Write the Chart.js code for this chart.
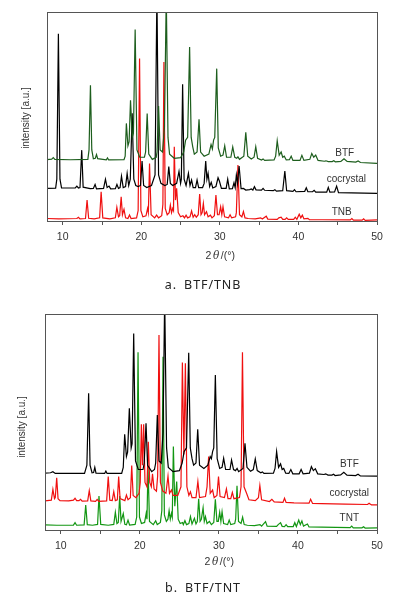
<!DOCTYPE html>
<html><head><meta charset="utf-8">
<script src="https://cdn.jsdelivr.net/npm/chart.js@4.4.1/dist/chart.umd.min.js"></script>
<style>
html,body{margin:0;padding:0;background:#fff;}
#wrap{position:relative;width:395px;height:599px;overflow:hidden;background:#fff;}
.box{position:absolute;left:0;width:395px;}
</style></head><body>
<div id="wrap">
<div class="box" style="top:0;height:300px"><canvas id="c1" width="395" height="300"></canvas></div>
<div class="box" style="top:300px;height:299px"><canvas id="c2" width="395" height="299"></canvas></div>
</div>
<script>
// x range (2θ, degrees)
const xTicks = [10, 20, 30, 40, 50];

// ---- Panel a: BTF / TNB (y = offset intensity, a.u.) ----
const btfA = [[8,29.4],[8.6,29.6],[8.8,30.3],[9.0,29.5],[11,29.3],[13.2,29.5],[13.35,34],[13.53,65],[13.7,34],[13.9,29.8],[14.15,30],[14.3,31.8],[14.45,29.8],[15.55,29.3],[15.7,30.2],[15.85,29.2],[17.8,29.3],[17.95,31],[18.1,46.7],[18.3,36],[18.45,38],[18.63,57.8],[18.85,40],[19.0,42],[19.22,91.6],[19.45,34],[19.8,30.5],[20.4,30.5],[20.55,33],[20.75,51.4],[20.95,32],[21.4,29.5],[21.9,30.5],[22.0,33],[22.2,55],[22.4,34],[22.7,33],[22.95,45],[23.18,108],[23.4,40],[23.6,32],[24.2,30],[25.0,30.3],[25.4,33],[25.64,38.7],[25.9,40],[26.15,83.3],[26.35,40],[26.55,35.5],[26.75,32],[27.1,33],[27.35,48.7],[27.55,33],[28.0,31],[28.6,32],[28.88,36.6],[29.05,34.5],[29.2,38.7],[29.35,40],[29.6,72.9],[29.8,35],[30.1,31],[30.4,31.5],[30.62,36],[30.85,30.5],[31.4,30.5],[31.64,35.4],[31.9,30.5],[32.15,30],[32.3,30.7],[32.5,29.5],[33.05,31],[33.3,42.4],[33.55,31],[34.0,29.7],[34.35,30.5],[34.57,35.5],[34.8,30],[35.3,29.2],[35.5,29.7],[35.7,29],[36.9,29.2],[37.1,31],[37.3,38.4],[37.55,31.5],[37.8,33],[38.0,30.5],[38.2,31],[38.45,29.2],[38.85,29.3],[39.08,31],[39.3,29],[40.2,29],[40.44,31.4],[40.7,29],[41.45,29.5],[41.7,32.3],[41.95,30.5],[42.2,31.5],[42.5,29],[43.3,28.6],[43.5,28.8],[43.8,28.4],[44.3,28.4],[44.5,28.8],[44.7,28.3],[45.4,28.5],[45.8,29.8],[46.2,28.5],[47.3,28.2],[47.6,28.7],[47.9,28],[50,27.6]];

const cocA = [[8,15.6],[9.1,15.7],[9.25,20],[9.45,89.6],[9.65,20],[9.85,15.8],[11.6,15.8],[11.8,16.7],[12.0,15.8],[12.2,16],[12.42,33.9],[12.6,16.2],[13.5,15.5],[13.9,15.6],[14.12,17.5],[14.3,15.4],[15.2,15.6],[15.44,20],[15.65,16],[15.9,16.7],[16.1,15.4],[16.7,15.5],[16.9,17.5],[17.1,15.6],[17.3,16],[17.48,21.5],[17.7,16],[18.0,16.5],[18.2,22.8],[18.4,17],[18.6,20],[18.84,51.5],[19.05,20],[19.3,17],[19.6,16.5],[19.9,17],[20.1,28.7],[20.3,17],[20.7,16],[21.0,16.5],[21.3,17],[21.75,22],[21.99,110],[22.2,22],[22.5,18],[23.0,17],[23.3,17.5],[23.5,26],[23.7,18],[24.0,17],[24.5,18],[24.8,23.7],[25.0,18],[25.1,20],[25.26,65.4],[25.45,20],[25.7,17],[26.0,22.8],[26.2,17],[26.4,19.6],[26.6,16],[26.9,16],[27.1,19.6],[27.3,16],[27.8,16],[28.0,18],[28.2,28.7],[28.35,20],[28.5,22.8],[28.7,16.5],[28.9,18.5],[29.1,15.8],[29.5,16.5],[29.77,20.7],[29.95,19],[30.2,15.6],[30.8,15.6],[31.0,20],[31.2,15.4],[31.6,15.5],[31.8,18.3],[31.95,16],[32.1,22],[32.25,18],[32.45,26.3],[32.7,15.5],[33.0,15.6],[33.3,14.8],[33.8,15],[34.0,15.3],[34.2,14.8],[34.4,16.4],[34.6,14.9],[35.3,14.8],[35.5,15.6],[35.7,14.7],[36.8,14.5],[37.0,15],[37.2,14.3],[38.0,14.5],[38.27,23.9],[38.5,14.5],[39.3,14.2],[39.5,15],[39.7,14],[40.8,14.2],[41.0,15.9],[41.2,14],[41.8,14],[42.0,14.7],[42.2,13.8],[43.6,13.8],[43.8,16.1],[44.0,13.8],[44.6,13.9],[44.86,16.7],[45.1,13.6],[50,13.2]];

const tnbA = [[8,1.2],[9.5,1.0],[11.8,1.2],[12.0,1.8],[12.2,1.0],[12.9,1.2],[13.1,10],[13.3,1.3],[14.0,1.0],[14.7,1.5],[14.89,14],[15.1,1.5],[16.0,1.0],[16.7,1.5],[16.89,6.5],[17.1,2],[17.25,2.5],[17.44,11.6],[17.6,3],[17.8,5.6],[18.0,1.5],[18.3,1.2],[18.5,2.9],[18.7,1.2],[19.4,1.5],[19.6,5],[19.78,77.7],[19.95,5],[20.2,2],[20.6,2.5],[20.8,6],[20.9,4],[21.05,27.5],[21.25,3],[21.7,1.5],[21.95,2.8],[22.2,1.5],[22.6,2.5],[22.75,8],[22.88,76.1],[23.05,6],[23.3,3],[23.55,4],[23.7,7.6],[23.85,4],[24.0,6],[24.1,5],[24.2,35.5],[24.35,10],[24.5,15.6],[24.7,4],[25.0,2],[25.3,2.5],[25.5,1.5],[25.7,2.8],[25.9,1.5],[26.2,2],[26.4,4.8],[26.6,1.8],[26.8,3],[27.0,1.8],[27.25,3],[27.43,12.9],[27.6,3],[27.75,4],[27.9,8.4],[28.05,3],[28.3,4.5],[28.5,2],[28.8,2.8],[29.0,1.5],[29.3,2.5],[29.5,12.4],[29.7,3],[29.9,3],[30.1,6.8],[30.25,3],[30.4,6.8],[30.6,2],[31.1,1.5],[31.3,3],[31.5,1.5],[32.0,2],[32.1,4],[32.3,26.8],[32.5,3],[32.8,2],[33.0,4.5],[33.2,1.5],[33.6,1.2],[34.5,1.0],[35.2,1.5],[35.4,1],[35.9,2.3],[36.1,0.9],[37.3,0.8],[37.5,1.5],[37.8,1.8],[38.0,0.8],[38.3,0.8],[38.5,1.5],[38.7,0.8],[39.4,0.8],[39.6,1.8],[39.8,0.8],[40.1,3.2],[40.3,1.5],[40.5,2.8],[40.7,1.0],[41.2,1.3],[41.4,0.6],[43,0.6],[46.6,0.5],[46.8,1.2],[47.0,0.4],[48.1,0.4],[48.3,1.0],[48.5,0.3],[50,0.5]];

// ---- Panel b: BTF / TNT ----
const btfB = [[8,26.3],[8.7,26.5],[9.0,27],[9.3,26.2],[13.0,26.2],[13.3,30],[13.52,63.3],[13.7,30],[13.95,26.5],[14.15,26.6],[14.3,29],[14.45,26.3],[15.55,26.2],[15.7,27.3],[15.85,26.2],[17.7,26.2],[17.9,29],[18.08,44.3],[18.3,34],[18.45,36],[18.67,56.3],[18.9,38],[19.02,40],[19.22,91],[19.45,32],[19.8,28],[20.4,28],[20.55,31],[20.78,49.4],[20.98,30],[21.5,27],[21.85,28],[22.0,31],[22.21,53.2],[22.42,32],[22.7,31],[22.93,45],[23.14,108],[23.38,38],[23.6,29],[24.2,27],[25.0,27.5],[25.35,31],[25.6,36.3],[25.9,38],[26.18,82.1],[26.38,38],[26.6,33],[26.8,30],[27.1,31],[27.32,46.6],[27.55,30],[28.1,28.5],[28.6,30],[28.9,34],[29.05,33],[29.2,36.3],[29.35,38],[29.55,71.8],[29.78,33],[30.1,28.5],[30.4,29],[30.6,33.2],[30.85,28],[31.4,28],[31.6,32.4],[31.85,28],[32.1,27.5],[32.3,28.5],[32.5,27],[33.05,28.5],[33.3,40.1],[33.55,29],[34.0,27.2],[34.35,28],[34.6,32.9],[34.85,27.5],[35.3,26.5],[35.5,26.9],[35.7,26.2],[36.9,26.3],[37.1,28.5],[37.3,36.3],[37.55,29],[37.8,30.6],[38.0,28],[38.2,28.5],[38.45,26.3],[38.85,26.2],[39.1,28],[39.35,26],[40.15,26],[40.4,28],[40.65,26],[41.45,26.3],[41.7,29.3],[41.95,27.5],[42.2,28.4],[42.5,26],[43.3,25.7],[43.5,26],[43.8,25.4],[44.3,25.4],[44.5,25.8],[44.7,25.2],[45.4,25.5],[45.8,26.7],[46.2,25.4],[47.3,25.2],[47.6,25.8],[47.9,25],[50,24.9]];

const cocB = [[8,13.5],[8.8,13.8],[9.0,18.8],[9.2,14.5],[9.3,15],[9.48,24.2],[9.65,14.5],[9.9,13.6],[11.0,13.5],[11.6,13.8],[11.8,14.7],[12.0,13.6],[12.3,13.6],[12.5,14.2],[12.7,13.4],[13.4,13.5],[13.6,18.2],[13.8,13.5],[14.4,13.3],[14.6,14.2],[14.8,13.3],[15.8,13.5],[16.0,24.7],[16.2,13.8],[16.5,13.6],[16.7,17.7],[16.9,13.6],[17.15,14],[17.32,24.7],[17.5,14.5],[18.1,13.6],[18.3,16.2],[18.5,14],[18.8,15],[18.97,29.8],[19.15,16],[19.5,15],[19.9,17],[20.05,22],[20.19,48.9],[20.33,30],[20.48,48.9],[20.65,22],[20.9,20],[21.07,40.9],[21.25,22],[21.45,20],[21.6,26],[21.8,19],[22.1,18],[22.25,25],[22.42,90.3],[22.6,22],[22.9,18],[23.3,17],[23.56,25],[23.75,17],[24.0,18.5],[24.2,16],[24.8,16],[25.2,20],[25.38,77.5],[25.57,35],[25.76,77.2],[25.95,20],[26.2,16],[26.4,17.7],[26.6,15],[27.1,15],[27.34,22.5],[27.55,15],[28.3,15.5],[28.5,20],[28.7,34],[28.9,17],[29.2,18.5],[29.4,15],[29.75,16],[29.95,24.7],[30.15,15.5],[30.7,15],[30.95,19],[31.15,14.5],[31.5,14.5],[31.7,17.4],[31.9,14.5],[32.6,15],[32.8,20],[32.98,82.3],[33.18,20],[33.5,17],[33.8,14],[34.6,13.6],[35.0,15],[35.18,20.6],[35.4,14],[36.4,13.2],[36.7,14.2],[37.0,13],[38.1,12.8],[38.3,14.7],[38.5,12.8],[39.5,12.6],[41.4,12.4],[41.6,14.2],[41.85,12.3],[43,12.2],[46,12],[48.8,11.8],[49.0,12.4],[49.3,11.6],[50,11.6]];

const tntB = [[8,2.4],[9.5,2.2],[11.6,2.3],[11.8,3.4],[12.0,2.2],[12.95,2.4],[13.15,11.6],[13.35,2.5],[14.0,2.2],[14.65,2.6],[14.83,15.7],[15.05,2.6],[16.0,2.2],[16.7,2.6],[16.9,8.2],[17.1,3],[17.27,3.5],[17.45,15.7],[17.62,4],[17.9,7.6],[18.1,2.6],[18.3,2.4],[18.5,4.6],[18.7,2.3],[19.4,2.6],[19.6,6],[19.77,82.3],[19.95,6],[20.2,3],[20.6,3.5],[20.8,7.7],[20.9,5],[21.03,29.3],[21.22,4],[21.7,2.5],[22.0,4.3],[22.2,2.5],[22.6,3.5],[22.78,9],[22.93,80.2],[23.1,7],[23.35,4],[23.55,5],[23.7,9],[23.85,5],[24.0,7.7],[24.1,6],[24.24,38.6],[24.42,11],[24.66,22.4],[24.85,5],[25.1,3],[25.4,3.5],[25.5,2.5],[25.7,4.3],[25.9,2.5],[26.2,3],[26.4,6.2],[26.6,2.8],[26.9,5.4],[27.1,2.8],[27.27,4],[27.44,14.5],[27.62,4],[27.78,5],[28.0,10.3],[28.15,4],[28.3,6.2],[28.5,3],[28.8,4],[29.05,2.5],[29.35,3.5],[29.55,14.2],[29.75,4],[29.92,4],[30.1,8.2],[30.25,4],[30.4,8.5],[30.6,3],[31.1,2.5],[31.3,4.6],[31.5,2.5],[32.0,3],[32.12,5],[32.29,20.5],[32.48,4],[32.8,3],[33.0,5.9],[33.2,2.5],[33.6,2.2],[34.5,2],[35.2,2.5],[35.4,1.8],[35.9,3.9],[36.1,1.8],[37.3,1.7],[37.5,2.5],[37.8,3.4],[38.0,1.7],[38.3,1.6],[38.5,2.5],[38.7,1.6],[39.4,1.6],[39.6,3.4],[39.8,1.6],[40.1,4.6],[40.3,2.5],[40.5,4.2],[40.7,1.8],[41.2,2.8],[41.4,1.4],[43,1.3],[46.6,1.1],[46.8,1.8],[47.0,1.0],[48.1,1.0],[48.3,1.5],[48.5,0.9],[50,1.0]];

const seriesNamesA = ['TNB', 'cocrystal', 'BTF'];
const seriesNamesB = ['TNT', 'cocrystal', 'BTF'];
const captions = ['a.\u2002BTF/TNB', 'b.\u2002BTF/TNT'];
</script>
<script>
const FONT = '"Liberation Sans", Arial, Helvetica, sans-serif';
const toXY = a => a.map(p => ({x: p[0], y: p[1]}));

const deco = {
  id: 'deco',
  afterDraw(chart, args, o) {
    const ctx = chart.ctx, a = chart.chartArea, xs = chart.scales.x, ys = chart.scales.y;
    ctx.save();
    ctx.strokeStyle = '#555'; ctx.lineWidth = 1;
    ctx.strokeRect(Math.round(a.left) + 0.5, Math.round(a.top) + 0.5,
                   Math.round(a.right) - Math.round(a.left), Math.round(a.bottom) - Math.round(a.top));
    ctx.fillStyle = '#333'; ctx.textAlign = 'center'; ctx.textBaseline = 'middle';
    ctx.font = '10px ' + FONT;
    o.labels.forEach(l => ctx.fillText(l.text, xs.getPixelForValue(l.x), ys.getPixelForValue(l.y)));
    ctx.save();
    ctx.translate(o.yTitleX, o.yTitleY);
    ctx.rotate(-Math.PI / 2);
    ctx.font = '10px ' + FONT;
    ctx.fillText('intensity [a.u.]', 0, 0);
    ctx.restore();
    const parts = [['2', '10.5px ' + FONT], ['\u03B8', 'italic 10.5px "DejaVu Serif", serif'], ['/(\u00B0)', '10.5px ' + FONT]];
    let total = 0;
    parts.forEach(p => { ctx.font = p[1]; total += ctx.measureText(p[0]).width + 1.5; });
    let cx = o.xTitleX - total / 2;
    ctx.textAlign = 'left';
    parts.forEach(p => { ctx.font = p[1]; ctx.fillText(p[0], cx, o.xTitleY); cx += ctx.measureText(p[0]).width + 1.5; });
    ctx.textAlign = 'center';
    ctx.fillStyle = '#222';
    ctx.font = '12.5px "Noto Sans", "Open Sans", sans-serif';
    if (ctx.letterSpacing !== undefined) ctx.letterSpacing = '0.9px';
    ctx.fillText(o.caption, o.capX, o.capY);
    ctx.restore();
  }
};

function makeChart(id, sets, colors, names, geo, capText) {
  const ds = sets.map((s, i) => ({
    label: names[i], data: toXY(s), borderColor: colors[i], borderWidth: 1.2,
    pointRadius: 0, tension: 0, fill: false, order: 3 - i
  }));
  return new Chart(document.getElementById(id), {
    type: 'line',
    data: { datasets: ds },
    plugins: [deco],
    options: {
      responsive: false, animation: false, devicePixelRatio: 1,
      layout: { padding: { left: 0, right: geo.right, top: geo.top, bottom: 0 } },
      plugins: {
        legend: { display: false }, tooltip: { enabled: false },
        deco: {
          labels: names.map((n, i) => ({ text: n, x: geo.lab[i][0], y: geo.lab[i][1] })),
          yTitleX: geo.yTitleX, yTitleY: geo.yTitleY,
          xTitleX: geo.xTitleX, xTitleY: geo.xTitleY,
          caption: capText, capX: geo.capX, capY: geo.capY
        }
      },
      scales: {
        x: {
          type: 'linear', min: 8, max: 50,
          afterFit: s => { s.height = geo.xh; },
          grid: { display: true, drawOnChartArea: false, drawTicks: true, tickLength: 4, color: '#555' },
          border: { display: false },
          ticks: {
            stepSize: 5, includeBounds: false, autoSkip: false, maxRotation: 0, padding: geo.tickPad,
            color: '#333', font: { size: 10.5, family: FONT },
            callback: v => (xTicks.includes(v) ? String(v) : '')
          }
        },
        y: {
          type: 'linear', min: 0, max: 100,
          afterFit: s => { s.width = geo.left; },
          grid: { display: false }, border: { display: false },
          ticks: { display: false }
        }
      }
    }
  });
}

makeChart('c1', [tnbA, cocA, btfA], ['#f01010', '#000000', '#1d5e1d'], seriesNamesA, {
  right: 18, top: 12, left: 47, xh: 79, tickPad: 6,
  lab: [[45.5, 4.3], [46.1, 20.1], [45.9, 32.5]],
  yTitleX: 26, yTitleY: 118, xTitleX: 221, xTitleY: 256, capX: 203, capY: 285
}, captions[0]);

makeChart('c2', [tntB, cocB, btfB], ['#129612', '#f01010', '#000000'], seriesNamesB, {
  right: 18, top: 14, left: 45, xh: 69, tickPad: 6,
  lab: [[46.5, 5.6], [46.5, 17.1], [46.5, 30.6]],
  yTitleX: 22, yTitleY: 127, xTitleX: 220, xTitleY: 262, capX: 203, capY: 288
}, captions[1]);
</script>
</body></html>
